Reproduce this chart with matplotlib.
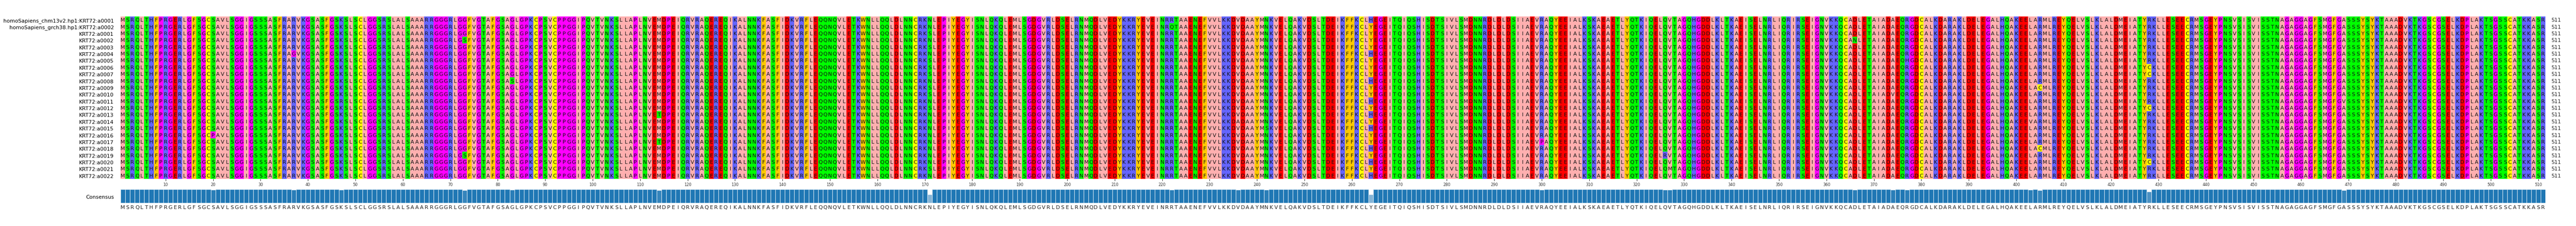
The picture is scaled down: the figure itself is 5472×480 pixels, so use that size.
import numpy as np
import matplotlib
matplotlib.use("Agg")
import matplotlib.pyplot as plt
from matplotlib.colors import to_rgb

row_names = ["homoSapiens_chm13v2.hp1:KRT72:a0001", "homoSapiens_grch38.hp1:KRT72:a0002"] + \
    [f"KRT72:a{i:04d}" for i in range(1, 23)]

consensus = ("MSRQLTHFPRGERLGFSGCSAVLS"
             "GGIGSSSASFRARVKGSASFGSKSLSCLGGSRSLALSAAARRGGGR"
             "LGGFVGTAFGSAGLGPKCPSVCPPGGIPQVTVNKSLLAPLNVEMDPE"
             "IQRVRAQEREQIKALNNKFASFIDKVRFLEQQNQVLETKWNLLQQL"
             "DLNNCRKNLEPIYEGYISNLQKQLEMLSGDGVRLDSELRNMQDLVE"
             "DYKKRYEVEINRRTAAENEFVVLKKDVDAAYMNKVELQAKVDSLTD"
             "EIKFFKCLYEGEITQIQSHISDTSIVLSMDNNRDLDLDSIIAEVRA"
             "QYEEIALKSKAEAETLYQTKIQELQVTAGQHGDDLKLTKAEISELN"
             "RLIQRIRSEIGNVKKQCADLETAIADAEQRGDCALKDARAKLDELE"
             "GALHQAKEELARMLREYQELVSLKLALDMEIATYRKLLESEECRMS"
             "GEYPNSVSISVISSTNAGAGGAGFSMGFGASSSYSYKTAAADVKTK"
             "GSCGSELKDPLAKTSGSSCATKKASR")

# variants: (row index, column number 1-based, residue)
var_rows = [17, 5, 12, 20, 3, 9, 14, 18, 7, 2, 4, 6, 8, 10, 11, 13, 22, 1, 15, 16, 19, 21, 23,
            0, 5, 9, 12, 14, 16, 18, 20, 22, 3, 11, 6, 15, 19, 10, 7, 13, 21, 8, 12, 4]
var_cols = [20, 37, 47, 73, 73, 83, 114, 114, 171, 171, 171, 171, 171, 171, 171, 171, 171,
            222, 236, 242, 264, 264, 264, 264, 264, 264, 264, 264, 264, 300, 326, 327,
            366, 374, 377, 403, 405, 405, 428, 428, 428, 428, 469, 469]
var_res = ["P", "G", "R", "S", "S", "S", "T", "T", "S", "S", "S", "S", "S", "S", "S", "S", "S",
           "Q", "A", "S", "H", "H", "H", "H", "H", "H", "H", "H", "H", "P", "R", "M",
           "N", "V", "H", "V", "C", "C", "C", "C", "C", "C", "V", "V"]

zappo = {}
for a in "ILVAM": zappo[a] = "#ffafaf"
for a in "FWY": zappo[a] = "#ffc800"
for a in "KRH": zappo[a] = "#6464ff"
for a in "DE": zappo[a] = "#ff0000"
for a in "STNQ": zappo[a] = "#00ff00"
for a in "PG": zappo[a] = "#ff00ff"
zappo["C"] = "#ffff00"
zappo["-"] = "#ffffff"

nrow = len(row_names)
ncol = len(consensus)
aln = [list(consensus) for _ in range(nrow)]
for r, c, a in zip(var_rows, var_cols, var_res):
    aln[r][c - 1] = a

cons_frac = np.array([sum(aln[r][j] == consensus[j] for r in range(nrow)) / nrow for j in range(ncol)])

W, H = 5472, 481
fig = plt.figure(figsize=(W / 100, H / 100), dpi=100)
x0, x1 = 256, 5407
ax = fig.add_axes([x0 / W, 1 - 381 / H, (x1 - x0) / W, (381 - 36) / H])
img = np.array([[to_rgb(zappo[aln[r][j]]) for j in range(ncol)] for r in range(nrow)])
ax.imshow(img, aspect="auto", interpolation="nearest", extent=(0.5, ncol + 0.5, nrow - 0.5, -0.5))
for r in range(nrow):
    for j in range(ncol):
        ax.text(j + 1, r, aln[r][j], ha="center", va="center", fontsize=8, color="#111111")
ax.set_xlim(0.5, ncol + 0.5)
ax.set_ylim(nrow - 0.5, -0.5)
ax.set_yticks(range(nrow))
ax.set_yticklabels(row_names, fontsize=8)
ax.tick_params(axis="y", length=0, pad=10)
ax.set_xticks(np.arange(10, ncol + 1, 10))
ax.tick_params(axis="x", labelsize=6, length=3, pad=2, colors="#333333")
for s in ax.spines.values():
    s.set_visible(False)
for r in range(nrow):
    ax.text(ncol + 1.7, r, str(ncol), ha="left", va="center", fontsize=8, color="#222222")

bx = fig.add_axes([x0 / W, 1 - 432 / H, (x1 - x0) / W, (432 - 403) / H])
base = np.array(to_rgb("#1f77b4"))
cols = [tuple(base + (1 - base) * min(1.0, (1 - v) * 1.2)) for v in cons_frac]
bx.bar(np.arange(1, ncol + 1), cons_frac, width=1.0, color=cols, edgecolor="#d6e6f2", linewidth=0.8)
bx.set_xlim(0.5, ncol + 0.5)
bx.set_ylim(0, 1)
bx.set_xticks(np.arange(1, ncol + 1))
bx.set_xticklabels(list(consensus), fontsize=8, color="#222222")
bx.tick_params(axis="x", length=0, pad=3)
bx.set_yticks([0.5])
bx.set_yticklabels(["Consensus"], fontsize=8)
bx.tick_params(axis="y", length=0, pad=10)
for s in bx.spines.values():
    s.set_visible(False)

fig.savefig("out.png", dpi=100)
